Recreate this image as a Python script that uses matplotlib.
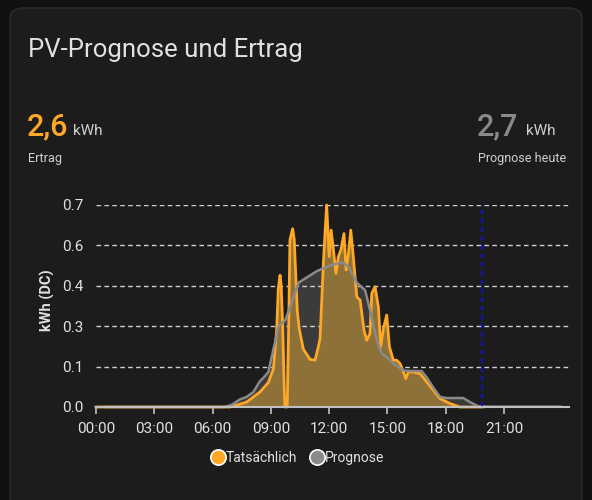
import matplotlib
matplotlib.use("Agg")
import matplotlib.pyplot as plt
from matplotlib.patches import FancyBboxPatch
from matplotlib.lines import Line2D
from matplotlib.ticker import FixedLocator, FormatStrFormatter

plt.rcParams['font.family'] = ['Roboto', 'DejaVu Sans']

# actual yield (Tatsächlich), hours of day -> kWh
actual_h = [0.0, 6.9, 7.75, 8.44, 8.87, 9.13, 9.3, 9.38, 9.47, 9.53, 9.6, 9.68, 9.72,
            9.84, 9.92, 9.98, 10.12, 10.2, 10.36, 10.46, 10.67, 11.01, 11.27, 11.44,
            11.53, 11.7, 11.8, 11.87, 11.94, 12.0, 12.1, 12.2, 12.35, 12.47, 12.6,
            12.76, 12.87, 12.99, 13.11, 13.24, 13.42, 13.59, 13.79, 13.93, 14.1,
            14.19, 14.36, 14.53, 14.65, 14.79, 14.96, 15.1, 15.3, 15.47, 15.65,
            15.82, 15.94, 16.07, 16.33, 16.68, 17.02, 17.36, 17.7, 18.22, 18.73, 19.87]
actual_v = [0.0, 0.0, 0.017, 0.052, 0.085, 0.133, 0.27, 0.41, 0.456, 0.42, 0.29, 0.08, 0.0,
            0.0, 0.3, 0.578, 0.617, 0.58, 0.33, 0.27, 0.2, 0.165, 0.162, 0.208,
            0.237, 0.497, 0.62, 0.699, 0.6, 0.52, 0.612, 0.554, 0.462, 0.52, 0.543,
            0.60, 0.474, 0.531, 0.612, 0.52, 0.381, 0.37, 0.266, 0.231, 0.254,
            0.393, 0.416, 0.347, 0.208, 0.272, 0.318, 0.208, 0.162, 0.162, 0.15,
            0.121, 0.098, 0.121, 0.121, 0.115, 0.087, 0.058, 0.029, 0.012, 0.0, 0.0]

# forecast (Prognose)
forecast_h = [0.5, 6.6, 7.0, 7.4, 7.75, 8.1, 8.44, 8.6, 8.87, 9.13, 9.4, 9.74, 10.08,
              10.42, 10.84, 11.36, 11.87, 12.2, 12.72, 12.99, 13.42, 13.85, 14.1,
              14.45, 14.7, 14.96, 15.3, 15.82, 16.0, 16.76, 17.0, 17.36, 17.7, 18.05,
              18.9, 19.25, 19.68, 20.5, 23.88]
forecast_v = [0.0, 0.0, 0.008, 0.026, 0.035, 0.052, 0.09, 0.10, 0.121, 0.20, 0.28, 0.30, 0.364,
              0.43, 0.448, 0.47, 0.485, 0.493, 0.50, 0.485, 0.43, 0.404, 0.335,
              0.231, 0.185, 0.173, 0.15, 0.127, 0.125, 0.124, 0.104, 0.067, 0.035, 0.031,
              0.031, 0.017, 0.002, 0.001, 0.001]

now_h = 19.87
x_ticks = [0, 3, 6, 9, 12, 15, 18, 21]
x_labels = ["00:00", "03:00", "06:00", "09:00", "12:00", "15:00", "18:00", "21:00"]
y_ticks = [0.0, 0.14, 0.28, 0.42, 0.56, 0.70]

ORANGE = '#ffa726'
GREY = '#8a8a8a'
TXT = '#e1e1e1'

fig = plt.figure(figsize=(5.92, 5.0), dpi=100, facecolor='#111111')
card = FancyBboxPatch((10 / 592, -0.05), 572 / 592, 1.034, transform=fig.transFigure,
                      boxstyle="round,pad=0,rounding_size=0.022",
                      facecolor='#1c1c1c', edgecolor='#2c2c2c', linewidth=1, zorder=-10)
fig.patches.append(card)

fig.text(28 / 592, 1 - 50 / 500, "PV-Prognose und Ertrag", fontsize=18.5, color=TXT,
         va='center', ha='left')
fig.text(27 / 592, 1 - 135 / 500, "2,6", fontsize=22, fontweight='medium', color=ORANGE,
         va='baseline')
fig.text(73 / 592, 1 - 135 / 500, "kWh", fontsize=11, color='#d0d0d0', va='baseline')
fig.text(28 / 592, 1 - 162 / 500, "Ertrag", fontsize=9.2, color='#d0d0d0', va='baseline')
fig.text(477 / 592, 1 - 135 / 500, "2,7", fontsize=22, fontweight='medium', color=GREY,
         va='baseline')
fig.text(526 / 592, 1 - 135 / 500, "kWh", fontsize=11, color='#d0d0d0', va='baseline')
fig.text(478 / 592, 1 - 162 / 500, "Prognose heute", fontsize=9, color='#d0d0d0',
         va='baseline')

ax = fig.add_axes([96 / 592, 1 - 407 / 500, 473 / 592, (407 - 204.7) / 500])
ax.set_facecolor('none')

ax.fill_between(forecast_h, forecast_v, color='#3b3b3b', linewidth=0, zorder=1)
ax.fill_between(actual_h, actual_v, color='#8d7139', linewidth=0, zorder=2)
ax.plot(actual_h, actual_v, color=ORANGE, lw=2, zorder=3, clip_on=False)
ax.plot(forecast_h, forecast_v, color=GREY, lw=1.8, zorder=4, clip_on=False)
ax.axvline(now_h, color='#1010d0', lw=1.4, linestyle=(0, (2.5, 2)), zorder=5)

ax.set_xlim(0, 24.34)
ax.set_ylim(0, 0.7)
ax.set_xticks(x_ticks)
ax.set_xticklabels(x_labels)
ax.yaxis.set_major_locator(FixedLocator(y_ticks))
ax.yaxis.set_major_formatter(FormatStrFormatter('%.1f'))
ax.grid(axis='y', color='#d0d0d0', lw=1, linestyle=(0, (3.3, 2.4)), zorder=0)
for s in ['top', 'right', 'left']:
    ax.spines[s].set_visible(False)
ax.spines['bottom'].set_color('#c0c0c0')
ax.spines['bottom'].set_linewidth(1.5)
ax.spines['bottom'].set_zorder(6)
ax.tick_params(axis='x', colors='#c0c0c0', labelcolor=TXT, length=5, width=1.2,
               labelsize=11, pad=6)
ax.tick_params(axis='y', length=0, labelcolor=TXT, labelsize=11, pad=9)

fig.text(47 / 592, 1 - 300 / 500, "kWh (DC)", rotation=90, fontsize=10.5,
         fontweight='bold', color=TXT, ha='center', va='center')

handles = [Line2D([], [], marker='o', linestyle='none', markersize=11,
                  markerfacecolor=ORANGE, markeredgecolor='white', markeredgewidth=1.2),
           Line2D([], [], marker='o', linestyle='none', markersize=11,
                  markerfacecolor=GREY, markeredgecolor='white', markeredgewidth=1.2)]
fig.legend(handles, ["Tatsächlich", "Prognose"], loc='center',
           bbox_to_anchor=(297 / 592, 1 - 458 / 500), ncol=2, frameon=False,
           fontsize=10, labelcolor=TXT, handletextpad=0.0, columnspacing=0.8,
           handlelength=1.2)

fig.savefig("out.png", dpi=100, facecolor=fig.get_facecolor())
